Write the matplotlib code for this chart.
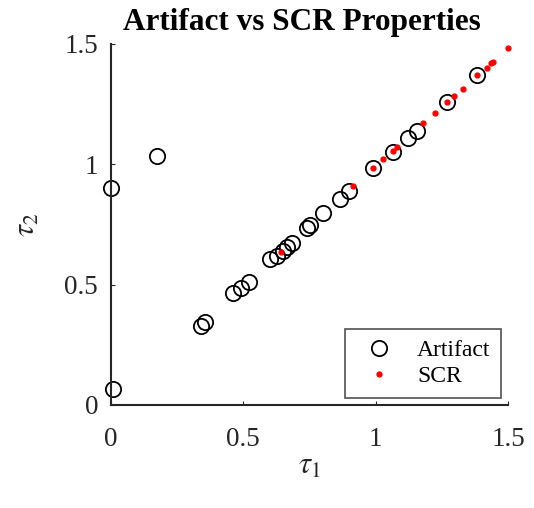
import matplotlib
matplotlib.use('Agg')
import matplotlib.pyplot as plt

plt.rcParams['font.family'] = ['Liberation Serif', 'DejaVu Serif']
plt.rcParams['mathtext.fontset'] = 'stix'

# 時定数 (tau1, tau2) : アーチファクト
art_t1 = [0.00, 0.01, 0.175, 0.34, 0.355, 0.46, 0.49, 0.52, 0.60, 0.628, 0.65, 0.665, 0.685,
          0.74, 0.753, 0.80, 0.865, 0.90, 0.99, 1.065, 1.12, 1.155, 1.268, 1.382]
art_t2 = [0.90, 0.066, 1.035, 0.33, 0.345, 0.465, 0.485, 0.51, 0.605, 0.62, 0.64, 0.655, 0.672,
          0.735, 0.747, 0.797, 0.855, 0.89, 0.983, 1.05, 1.11, 1.14, 1.26, 1.37]

# 時定数 (tau1, tau2) : SCR
scr_t1 = [0.643, 0.914, 0.990, 1.027, 1.065, 1.080, 1.179, 1.224, 1.269, 1.295, 1.329,
          1.382, 1.420, 1.435, 1.443, 1.499]
scr_t2 = [0.635, 0.909, 0.983, 1.021, 1.054, 1.071, 1.170, 1.212, 1.257, 1.282, 1.315,
          1.373, 1.402, 1.419, 1.427, 1.485]

ticks = [0, 0.5, 1, 1.5]
tick_labels = ['0', '0.5', '1', '1.5']

fig = plt.figure(figsize=(5.34, 5.08), dpi=100)
ax = fig.add_axes([0.2073, 0.2028, 0.7446, 0.7106])

ax.plot(art_t1, art_t2, 'o', markersize=11, markerfacecolor='none', markeredgecolor='black',
        markeredgewidth=1.3, label='Artifact', clip_on=False)
ax.plot(scr_t1, scr_t2, '.', markersize=7, color='red', label='SCR', clip_on=False)

ax.set_xlim(0, 1.5)
ax.set_ylim(0, 1.5)
ax.set_xticks(ticks)
ax.set_xticklabels(tick_labels)
ax.set_yticks(ticks)
ax.set_yticklabels(tick_labels)
ax.tick_params(direction='in', length=3, width=0.8, labelsize=19.5, colors='#262626')
ax.tick_params(axis='x', pad=16)
ax.tick_params(axis='y', pad=9)

for s in ['top', 'right']:
    ax.spines[s].set_visible(False)
for s in ['left', 'bottom']:
    ax.spines[s].set_linewidth(1.5)
    ax.spines[s].set_color('#262626')

ax.set_xlabel(r'$\tau_1$', fontsize=22, color='#262626', labelpad=0)
ax.set_ylabel(r'$\tau_2$', fontsize=22, color='#262626', labelpad=16)
ax.set_title('Artifact vs SCR Properties', fontsize=22.5, fontweight='bold', pad=10, x=0.48)

leg = ax.legend(loc='lower right', fontsize=17, frameon=True, fancybox=False,
                borderaxespad=0.3, handletextpad=0.6, labelspacing=0.2, borderpad=0.45)
leg.get_frame().set_edgecolor('#262626')
leg.get_frame().set_linewidth(1.2)

fig.savefig('out.png', dpi=100)
